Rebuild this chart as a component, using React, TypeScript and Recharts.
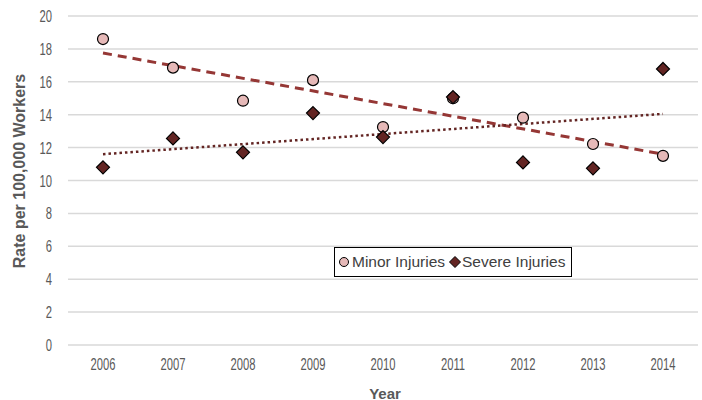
import { ComposedChart, Line, XAxis, YAxis, CartesianGrid, Label } from 'recharts';

const years = ['2006', '2007', '2008', '2009', '2010', '2011', '2012', '2013', '2014'];
const minorRates = [18.6, 16.86, 14.85, 16.1, 13.25, 15.0, 13.82, 12.22, 11.5];
const severeRates = [10.8, 12.56, 11.71, 14.1, 12.64, 15.07, 11.1, 10.74, 16.78];
// trendline end points (first year, last year)
const minorTrend = [17.75, 11.6];
const severeTrend = [11.6, 14.05];
const yTicks = [0, 2, 4, 6, 8, 10, 12, 14, 16, 18, 20];

const last = years.length - 1;
const data = years.map((year, i) => ({
  year,
  minor: minorRates[i],
  severe: severeRates[i],
  minorTrend: i === 0 ? minorTrend[0] : i === last ? minorTrend[1] : undefined,
  severeTrend: i === 0 ? severeTrend[0] : i === last ? severeTrend[1] : undefined,
}));

const MINOR_FILL = '#e6b9b8';
const SEVERE_FILL = '#632523';
const GREY = '#595959';
const FONT = '"Liberation Sans", Arial, sans-serif';

const CircleDot = (p: any) => {
  if (p.cx == null || p.cy == null) return <g key={p.key} />;
  return <circle key={p.key} cx={p.cx} cy={p.cy} r={5.5} fill={MINOR_FILL} stroke="#000" strokeWidth={1.2} />;
};

const DiamondDot = (p: any) => {
  if (p.cx == null || p.cy == null) return <g key={p.key} />;
  const s = 6.5;
  const pts = `${p.cx},${p.cy - s} ${p.cx + s},${p.cy} ${p.cx},${p.cy + s} ${p.cx - s},${p.cy}`;
  return <polygon key={p.key} points={pts} fill={SEVERE_FILL} stroke="#000" strokeWidth={1.2} />;
};

// narrow-looking tick text (squeezed horizontally)
const XTick = (p: any) => (
  <g transform={`translate(${p.x},${p.y + 17}) scale(0.66,1)`}>
    <text x={0} y={0} textAnchor="middle" fill={GREY} fontSize={17} fontFamily={FONT}>{p.payload.value}</text>
  </g>
);

const YTick = (p: any) => (
  <g transform={`translate(${p.x},${p.y + 6}) scale(0.66,1)`}>
    <text x={0} y={0} textAnchor="end" fill={GREY} fontSize={17} fontFamily={FONT}>{p.payload.value}</text>
  </g>
);

const YTitle = () => (
  <text x={19} y={171} transform="rotate(-90 19 171)" textAnchor="middle" dominantBaseline="central" fill={GREY} fontSize={16} fontWeight={700} fontFamily={FONT}>
    Rate per 100,000 Workers
  </text>
);

const LegendBox = () => (
  <div style={{ position: 'absolute', left: 334, top: 247, width: 238, height: 30, border: '1px solid #000', boxSizing: 'border-box', background: '#fff', display: 'flex', alignItems: 'center', fontFamily: FONT, fontSize: 15.5, color: '#404040', whiteSpace: 'nowrap' }}>
    <svg width={14} height={14} style={{ marginLeft: 2 }}>
      <circle cx={7} cy={7} r={4.5} fill={MINOR_FILL} stroke="#000" strokeWidth={1} />
    </svg>
    <span style={{ marginLeft: 1 }}>Minor Injuries</span>
    <svg width={14} height={14} style={{ marginLeft: 3 }}>
      <polygon points="7,1.5 12.5,7 7,12.5 1.5,7" fill={SEVERE_FILL} stroke="#000" strokeWidth={1} />
    </svg>
    <span style={{ marginLeft: 0 }}>Severe Injuries</span>
  </div>
);

export default function App() {
  return (
    <div style={{ position: 'absolute', left: 0, top: 0, width: 702, height: 400, background: '#fff' }}>
      <ComposedChart width={702} height={400} data={data} margin={{ top: 16, right: 4, bottom: 0, left: 0 }}>
        <CartesianGrid vertical={false} stroke="#d9d9d9" strokeWidth={1.5} />
        <XAxis dataKey="year" axisLine={false} tickLine={false} tick={XTick} interval={0} padding={{ left: 35, right: 35 }} height={55}>
          <Label content={() => (
            <text x={385} y={393} textAnchor="middle" dominantBaseline="central" fill={GREY} fontSize={15} fontWeight={700} fontFamily={FONT}>Year</text>
          )} />
        </XAxis>
        <YAxis width={68} domain={[0, 20]} ticks={yTicks} axisLine={false} tickLine={false} tick={YTick} tickMargin={10}>
          <Label content={YTitle} />
        </YAxis>
        <Line dataKey="minor" name="Minor Injuries" stroke="none" dot={CircleDot} activeDot={false} isAnimationActive={false} />
        <Line dataKey="severe" name="Severe Injuries" stroke="none" dot={DiamondDot} activeDot={false} isAnimationActive={false} />
        <Line dataKey="minorTrend" stroke="#953735" strokeWidth={3} strokeDasharray="9 6" dot={false} activeDot={false} connectNulls isAnimationActive={false} />
        <Line dataKey="severeTrend" stroke="#632523" strokeWidth={2.5} strokeDasharray="2.5 3" dot={false} activeDot={false} connectNulls isAnimationActive={false} />
      </ComposedChart>
      <LegendBox />
    </div>
  );
}
